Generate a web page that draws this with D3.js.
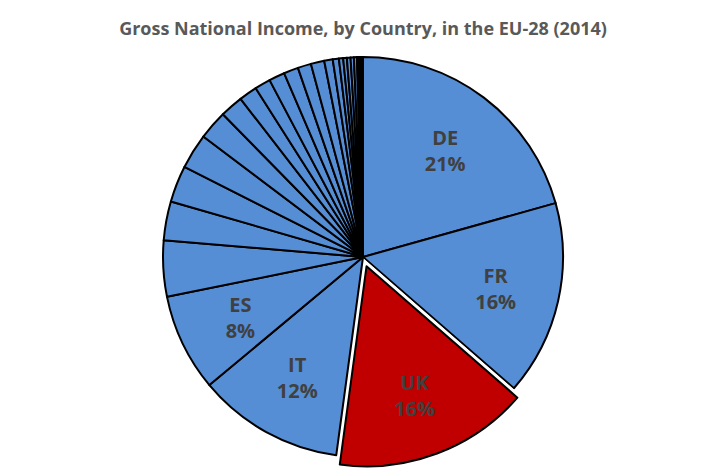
<!DOCTYPE html>
<html><head><meta charset="utf-8">
<script src="https://cdn.jsdelivr.net/npm/d3@7"></script>
<style>body{margin:0;background:#fff}</style></head>
<body><svg id="c" width="727" height="472"></svg>
<script>
const countries = ["DE","FR","UK","IT","ES","NL","SE","PL","BE","AT","DK","FI","PT","GR","IE","CZ","RO","HU","SK","LU","BG","HR","SI","LT","LV","EE","CY","MT"];
const shares = [21.0,16.0,16.0,12.0,8.0,4.6,3.2,3.0,2.9,2.4,1.9,1.5,1.3,1.3,1.2,1.1,1.1,0.7,0.5,0.35,0.3,0.3,0.27,0.25,0.17,0.14,0.12,0.06];
const labelled = ["DE","FR","UK","IT","ES"];
const highlight = "UK";
const data = countries.map((c,i)=>({c, v:shares[i]}));
const svg = d3.select("#c");
svg.append("text").attr("x",363).attr("y",35).attr("text-anchor","middle")
  .attr("font-family","Open Sans, Liberation Sans, sans-serif").attr("font-weight","bold")
  .attr("font-size",18).attr("fill","#595959").text("Gross National Income, by Country, in the EU-28 (2014)");
const cx=363, cy=257, r=200;
const pie = d3.pie().value(d=>d.v).sort(null);
const arc = d3.arc().innerRadius(0).outerRadius(r);
const arcs = pie(data);
const g = svg.append("g").attr("transform",`translate(${cx},${cy})`);
arcs.forEach(a=>{
  const mid=(a.startAngle+a.endAngle)/2;
  const off = a.data.c===highlight?10:0;
  const dx=Math.sin(mid)*off, dy=-Math.cos(mid)*off;
  const gg=g.append("g").attr("transform",`translate(${dx},${dy})`);
  if(a.data.c===highlight){
    gg.append("path").attr("d",arc(a)).attr("fill","none").attr("stroke","#fff").attr("stroke-width",8);
  }
  gg.append("path").attr("d",arc(a)).attr("fill",a.data.c===highlight?"#c00000":"#558ed5")
    .attr("stroke","#000").attr("stroke-width",2).attr("stroke-linejoin","round");
  if(labelled.includes(a.data.c)){
    const lr = r*0.68;
    const lx=Math.sin(mid)*lr, ly=-Math.cos(mid)*lr;
    const t=gg.append("text").attr("text-anchor","middle").attr("font-family","Open Sans, Liberation Sans, sans-serif")
      .attr("font-weight","bold").attr("font-size",20).attr("fill","#404040");
    t.append("tspan").attr("x",lx).attr("y",ly-4).text(a.data.c);
    t.append("tspan").attr("x",lx).attr("y",ly+22).text(Math.round(a.data.v)+"%");
  }
});
</script></body></html>
